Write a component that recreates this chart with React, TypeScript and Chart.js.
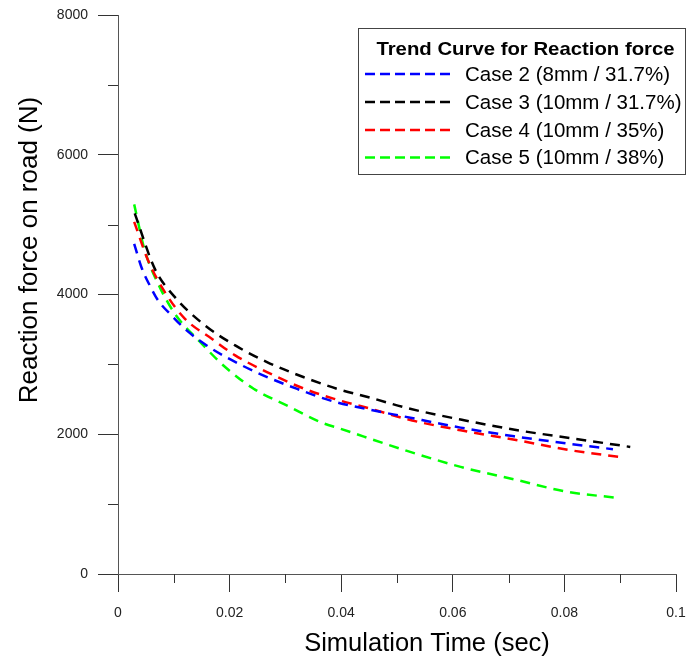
import React, { useEffect, useRef } from "react";
import { Chart, registerables } from "chart.js";

Chart.register(...registerables);

const case2Time = [0.0029, 0.0042, 0.0057, 0.0072, 0.0096, 0.0123, 0.0168, 0.0222, 0.026, 0.032, 0.0386, 0.0452, 0.0512, 0.0614, 0.071, 0.0805, 0.0887];
const case2Force = [4724, 4390, 4129, 3914, 3700, 3486, 3224, 2986, 2843, 2652, 2470, 2350, 2255, 2095, 1971, 1867, 1786];

const case3Time = [0.003, 0.0066, 0.0102, 0.0156, 0.021, 0.0267, 0.0332, 0.0392, 0.0458, 0.0518, 0.0614, 0.0716, 0.0817, 0.0918];
const case3Force = [5160, 4367, 3962, 3557, 3271, 3033, 2819, 2652, 2510, 2375, 2210, 2057, 1938, 1819];

const case4Time = [0.0029, 0.0054, 0.0084, 0.012, 0.0168, 0.021, 0.0267, 0.0326, 0.0386, 0.0452, 0.0518, 0.0614, 0.0716, 0.0811, 0.0908];
const case4Force = [5040, 4486, 4033, 3652, 3367, 3129, 2890, 2676, 2510, 2367, 2215, 2057, 1914, 1771, 1667];

const case5Time = [0.0029, 0.0048, 0.0072, 0.0102, 0.015, 0.0192, 0.0243, 0.0308, 0.0362, 0.0398, 0.0518, 0.0614, 0.0716, 0.0805, 0.0889];
const case5Force = [5290, 4629, 4152, 3724, 3296, 2962, 2652, 2390, 2176, 2081, 1762, 1533, 1343, 1176, 1095];

const seriesLabels = ["Case 2 (8mm / 31.7%)", "Case 3 (10mm / 31.7%)", "Case 4 (10mm / 35%)", "Case 5 (10mm / 38%)"];
const seriesColors = ["#0000ff", "#000000", "#ff0000", "#00ff00"];
const legendTitle = "Trend Curve for Reaction force";
const xTitle = "Simulation Time (sec)";
const yTitle = "Reaction force on road (N)";

const xMinorTicks = [0.01, 0.03, 0.05, 0.07, 0.09];
const yMinorTicks = [1000, 3000, 5000, 7000];

const FONT = "'Liberation Sans', Arial, sans-serif";

const pts = (t: number[], f: number[]) => t.map((v, i) => ({ x: v, y: f[i] }));

const decorPlugin = {
  id: "decor",
  afterDraw(chart: any) {
    const ctx = chart.ctx;
    const xs = chart.scales.x;
    const ys = chart.scales.y;
    const area = chart.chartArea;
    ctx.save();
    // minor ticks
    ctx.strokeStyle = "#333";
    ctx.lineWidth = 1;
    ctx.beginPath();
    xMinorTicks.forEach((v) => {
      const px = Math.round(xs.getPixelForValue(v)) + 0.5;
      ctx.moveTo(px, area.bottom);
      ctx.lineTo(px, area.bottom + 9);
    });
    yMinorTicks.forEach((v) => {
      const py = Math.round(ys.getPixelForValue(v)) + 0.5;
      ctx.moveTo(area.left - 10, py);
      ctx.lineTo(area.left, py);
    });
    ctx.stroke();

    // axis titles
    ctx.fillStyle = "#000";
    ctx.font = `25.5px ${FONT}`;
    ctx.textAlign = "center";
    ctx.textBaseline = "alphabetic";
    ctx.fillText(xTitle, 427, 651);
    ctx.font = `26px ${FONT}`;
    ctx.save();
    ctx.translate(37, 250);
    ctx.rotate(-Math.PI / 2);
    ctx.fillText(yTitle, 0, 0);
    ctx.restore();

    // legend
    const bx = 358.5, by = 28.5, bw = 327, bh = 146;
    ctx.fillStyle = "#fff";
    ctx.fillRect(bx, by, bw, bh);
    ctx.strokeStyle = "#444";
    ctx.lineWidth = 1;
    ctx.strokeRect(bx, by, bw, bh);
    ctx.fillStyle = "#000";
    ctx.font = `bold 19px ${FONT}`;
    ctx.textAlign = "center";
    ctx.textBaseline = "middle";
    ctx.save();
    ctx.translate(525.5, 50);
    ctx.scale(1.07, 1);
    ctx.fillText(legendTitle, 0, 0);
    ctx.restore();
    ctx.font = `20.5px ${FONT}`;
    ctx.textAlign = "left";
    const rows = [74, 102, 130, 157.5];
    seriesLabels.forEach((lab, i) => {
      const y = rows[i];
      ctx.strokeStyle = seriesColors[i];
      ctx.lineWidth = 2.5;
      ctx.setLineDash([10, 5]);
      ctx.beginPath();
      ctx.moveTo(365, y);
      ctx.lineTo(453, y);
      ctx.stroke();
      ctx.setLineDash([]);
      ctx.fillStyle = "#000";
      ctx.fillText(lab, 465, y + 1);
    });
    ctx.restore();
  },
};

export default function App() {
  const ref = useRef<HTMLCanvasElement>(null);
  useEffect(() => {
    if (!ref.current) return;
    const times = [case2Time, case3Time, case4Time, case5Time];
    const forces = [case2Force, case3Force, case4Force, case5Force];
    const chart = new Chart(ref.current, {
      type: "line",
      data: {
        datasets: seriesLabels.map((lab, i) => ({
          label: lab,
          data: pts(times[i], forces[i]),
          borderColor: seriesColors[i],
          backgroundColor: seriesColors[i],
          borderWidth: 2.5,
          borderDash: [10, 7],
          pointRadius: 0,
          fill: false,
          cubicInterpolationMode: "monotone",
        })),
      },
      options: {
        animation: false,
        responsive: false,
        devicePixelRatio: 1,
        layout: { padding: { top: 15, right: 11, left: 0, bottom: 0 } },
        plugins: { legend: { display: false }, tooltip: { enabled: false } },
        scales: {
          x: {
            type: "linear",
            min: 0,
            max: 0.1,
            afterFit: (s: any) => { s.height = 88; s.paddingLeft = 0; s.paddingRight = 0; },
            border: { display: true, color: "#555", width: 1 },
            grid: { drawOnChartArea: false, tickLength: 18, tickColor: "#333", color: "#333" },
            ticks: {
              stepSize: 0.02,
              padding: 13,
              color: "#222",
              font: { family: FONT, size: 14 },
              callback: (v: any) => String(Number(Number(v).toFixed(3))),
            },
          },
          y: {
            type: "linear",
            min: 0,
            max: 8000,
            afterFit: (s: any) => { s.width = 118; s.paddingTop = 0; s.paddingBottom = 0; },
            border: { display: true, color: "#555", width: 1 },
            grid: { drawOnChartArea: false, tickLength: 20, tickColor: "#333", color: "#333" },
            ticks: {
              stepSize: 2000,
              padding: 10,
              color: "#222",
              font: { family: FONT, size: 14 },
              callback: (v: any) => String(v),
            },
          },
        },
      },
      plugins: [decorPlugin],
    } as any);
    return () => chart.destroy();
  }, []);
  return (
    <div style={{ position: "fixed", left: 0, top: 0, width: 687, height: 662, background: "#fff" }}>
      <canvas ref={ref} width={687} height={662} />
    </div>
  );
}
